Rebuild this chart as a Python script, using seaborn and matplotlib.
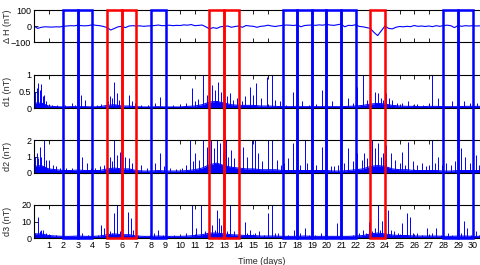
import numpy as np
import matplotlib
matplotlib.use("Agg")
import matplotlib.pyplot as plt
from matplotlib.patches import Rectangle
import seaborn as sns

# delta H, sampled every 0.25 day starting at day 0
dh_step = 0.25
dh_values = [0, -15, -8, -5, -6, -7, -5, -6,
             -2, 0, 2, 1, 5, 2, 1, 3,
             8, 4, 2, -3, -10, -25, -15, -5,
             -2, -10, 0, 2, 0, 1, -2, 0,
             1, 3, 6, 2, 3, 5, 2, 4,
             3, 7, 5, 9, 2, 4, 6, -5,
             -18, -10, -15, -5, -2, 0, -8, -3,
             0, -8, 3, 0, -2, -8, -2, 0,
             5, 0, -3, 1, 4, 6, 5, 3,
             7, -5, 3, 5, 6, 4, 7, 5,
             10, 6, 4, 8, 12, -5, 4, 3,
             8, -3, -5, -10, -15, -40, -60, -30,
             0, -15, -18, -8, -3, -5, -2, -4,
             3, -2, 0, -3, 0, -4, 2, -2,
             3, 5, 2, -10, 3, -2, 2, 0,
             2, 0, 1]

# background level of the detail coefficients, every 0.5 day
base_step = 0.5
d1_base = [0.15, 0.15, 0.06, 0.04, 0.03, 0.04, 0.04, 0.04, 0.03, 0.04,
           0.08, 0.1, 0.06, 0.06, 0.04, 0.03, 0.03, 0.04, 0.03, 0.03,
           0.03, 0.05, 0.06, 0.1, 0.18, 0.2, 0.15, 0.1, 0.08, 0.08,
           0.08, 0.06, 0.06, 0.05, 0.04, 0.04, 0.04, 0.04, 0.04, 0.04,
           0.04, 0.04, 0.04, 0.05, 0.06, 0.08, 0.12, 0.14, 0.12, 0.08,
           0.06, 0.05, 0.05, 0.04, 0.05, 0.05, 0.04, 0.04, 0.04, 0.05,
           0.05, 0.05]
d2_base = [0.4, 0.45, 0.25, 0.2, 0.15, 0.15, 0.18, 0.15, 0.15, 0.15,
           0.25, 0.3, 0.25, 0.25, 0.15, 0.12, 0.12, 0.15, 0.12, 0.12,
           0.12, 0.15, 0.2, 0.3, 0.5, 0.6, 0.45, 0.35, 0.3, 0.25,
           0.25, 0.2, 0.2, 0.2, 0.15, 0.15, 0.15, 0.15, 0.15, 0.15,
           0.15, 0.12, 0.12, 0.15, 0.2, 0.25, 0.4, 0.45, 0.4, 0.25,
           0.2, 0.2, 0.15, 0.15, 0.15, 0.15, 0.12, 0.12, 0.15, 0.15,
           0.15, 0.15]
d3_base = [2.5, 2.5, 1.5, 1.2, 1, 1, 1.2, 1, 1, 1.2,
           2, 2.5, 2, 2, 1.2, 1, 1, 1.2, 1, 1,
           1, 1.2, 1.5, 2, 3, 3, 2.5, 2, 1.8, 1.5,
           1.5, 1.2, 1.2, 1.2, 1, 1, 1, 1.2, 1, 1,
           1, 1, 1, 1, 1.2, 1.5, 2.5, 3, 2.5, 1.8,
           1.5, 1.5, 1.2, 1.2, 1.2, 1.2, 1, 1, 1.2, 1.2,
           1, 1]

# individual spikes (day, height)
d1_spike_t = [0.05, 0.2, 0.3, 0.4, 0.5, 0.6, 0.7, 0.85, 1.2, 1.6, 2.1, 2.6, 2.8, 3.2, 3.5, 3.9,
              4.3, 4.6, 5.05, 5.2, 5.35, 5.5, 5.65, 5.8, 6.1, 6.5, 6.7, 6.9, 7.3, 7.8, 8.3, 8.6,
              9.0, 9.5, 10.0, 10.4, 10.8, 11.0, 11.2, 11.55, 11.8, 12.0, 12.2, 12.4, 12.6, 12.8,
              13.0, 13.2, 13.4, 13.6, 13.9, 14.2, 14.4, 14.8, 15.0, 15.2, 15.5, 15.95, 16.3, 16.5,
              16.8, 17.2, 17.7, 18.0, 18.3, 18.8, 19.3, 19.7, 20.0, 20.4, 20.9, 21.5, 21.8, 22.1,
              22.5, 22.8, 23.0, 23.3, 23.5, 23.7, 23.9, 24.1, 24.3, 24.5, 24.8, 25.2, 25.6, 25.9,
              26.2, 26.6, 27.0, 27.2, 27.6, 28.0, 28.6, 29.0, 29.4, 29.8, 30.0, 30.3]
d1_spike_h = [0.5, 0.6, 0.75, 0.55, 0.72, 0.35, 0.4, 0.2, 0.1, 0.08, 0.08, 0.15, 0.1, 0.4, 0.25, 0.1,
              0.1, 0.12, 0.2, 0.37, 0.3, 0.8, 0.45, 0.25, 0.2, 0.4, 0.2, 0.15, 0.1, 0.08, 0.15, 0.33,
              0.1, 0.08, 0.1, 0.15, 0.6, 0.2, 0.27, 1.0, 0.4, 0.3, 0.7, 0.55, 0.8, 0.5,
              0.3, 0.35, 0.45, 0.25, 0.3, 0.2, 0.35, 0.65, 0.4, 0.75, 0.3, 0.95, 1.0, 0.25,
              0.2, 0.1, 0.5, 0.12, 0.2, 0.1, 0.12, 0.55, 0.15, 0.2, 0.12, 0.3, 0.15, 0.65,
              1.0, 0.25, 0.3, 0.5, 0.45, 0.3, 0.25, 0.45, 0.3, 0.25, 0.15, 0.15, 0.2, 0.1,
              0.12, 0.1, 0.15, 1.0, 0.3, 0.1, 0.2, 0.12, 0.2, 0.15, 0.3, 0.15]

d2_spike_t = [0.05, 0.2, 0.3, 0.4, 0.5, 0.65, 0.8, 1.05, 1.3, 1.5, 1.8, 2.2, 2.6, 3.0, 3.3, 3.6,
              3.9, 4.2, 4.5, 4.8, 5.0, 5.2, 5.35, 5.5, 5.7, 5.85, 6.05, 6.2, 6.5, 6.7, 7.0, 7.3,
              7.7, 8.0, 8.3, 8.6, 8.9, 9.3, 9.7, 10.1, 10.4, 10.7, 10.9, 11.0, 11.3, 11.55, 11.8,
              12.0, 12.1, 12.3, 12.5, 12.7, 12.9, 13.1, 13.3, 13.5, 13.7, 14.0, 14.3, 14.6, 14.9,
              15.1, 15.3, 15.6, 16.0, 16.3, 16.6, 16.9, 17.1, 17.4, 17.7, 18.0, 18.2, 18.5, 18.7,
              19.0, 19.3, 19.7, 20.0, 20.3, 20.5, 20.8, 21.2, 21.5, 21.8, 22.1, 22.4, 22.6, 22.8,
              23.0, 23.1, 23.3, 23.5, 23.7, 23.9, 24.1, 24.4, 24.7, 25.0, 25.2, 25.4, 25.6, 25.9,
              26.2, 26.5, 26.8, 27.0, 27.2, 27.4, 27.6, 27.9, 28.2, 28.5, 28.8, 29.2, 29.5, 29.8,
              30.0, 30.2, 30.4]
d2_spike_h = [1.0, 1.2, 0.9, 1.6, 1.0, 2.0, 0.8, 0.8, 0.5, 0.4, 0.3, 0.3, 0.3, 0.4, 1.0, 0.6,
              0.3, 0.3, 0.4, 0.5, 0.6, 1.0, 0.7, 2.0, 1.1, 1.3, 0.6, 1.0, 0.9, 0.6, 0.4, 0.5,
              0.3, 0.4, 0.6, 1.2, 0.4, 0.3, 0.25, 0.3, 0.5, 2.0, 0.7, 1.2, 0.8, 2.0, 1.6,
              0.9, 2.0, 1.5, 2.0, 1.8, 1.2, 2.0, 1.0, 1.4, 0.9, 0.8, 1.6, 1.0, 2.0,
              2.0, 1.2, 0.7, 2.0, 2.0, 0.8, 0.5, 0.6, 0.9, 1.8, 0.6, 0.5, 2.0, 0.6,
              0.8, 0.5, 1.6, 0.8, 0.4, 0.4, 0.5, 0.6, 1.5, 0.7, 1.2, 0.8, 1.2, 0.9,
              2.0, 2.0, 1.5, 1.8, 1.0, 1.2, 1.7, 1.2, 0.8, 0.6, 1.3, 0.5, 1.9, 0.7,
              0.5, 0.6, 0.4, 0.5, 2.0, 0.6, 1.0, 0.5, 0.6, 0.5, 0.7, 1.5, 1.0, 0.6,
              0.5, 1.1, 0.5]

d3_spike_t = [0.05, 0.25, 0.4, 0.5, 0.6, 0.8, 1.1, 1.5, 1.9, 2.3, 2.7, 3.1, 3.3, 3.7, 4.1, 4.4,
              4.6, 4.8, 5.05, 5.2, 5.35, 5.5, 5.7, 5.9, 6.1, 6.4, 6.6, 6.8, 7.1, 7.5, 7.9, 8.2,
              8.5, 8.8, 9.2, 9.6, 10.0, 10.4, 10.8, 11.1, 11.45, 11.7, 12.0, 12.2, 12.35, 12.5,
              12.65, 12.8, 13.0, 13.2, 13.4, 13.7, 14.0, 14.4, 14.6, 14.8, 15.1, 15.4, 15.7, 16.0,
              16.3, 16.5, 16.7, 17.0, 17.4, 17.8, 18.0, 18.2, 18.5, 18.8, 19.2, 19.6, 20.0, 20.4,
              20.7, 21.0, 21.4, 21.8, 22.2, 22.5, 22.7, 22.9, 23.1, 23.3, 23.5, 23.65, 23.8, 24.0,
              24.2, 24.4, 24.6, 24.9, 25.2, 25.5, 25.7, 25.9, 26.2, 26.5, 26.9, 27.2, 27.5, 27.8,
              28.0, 28.3, 28.6, 28.9, 29.2, 29.4, 29.6, 29.9, 30.2, 30.4]
d3_spike_h = [3, 13, 4, 5, 5, 3, 2, 2, 1.5, 1.5, 1.5, 10, 3, 2, 1.5, 2,
              8, 6, 3, 4, 3, 15, 20, 4, 3, 16, 12, 5, 2, 1.5, 2, 3,
              5, 2, 1.5, 2, 2, 3, 20, 6, 20, 4, 4, 8, 5, 17,
              12, 8, 5, 4, 20, 4, 5, 10, 3, 5, 3, 4, 2, 15,
              20, 3, 3, 1.5, 2, 5, 2, 3, 6, 2, 2, 3, 2, 1.5,
              9, 2, 1.5, 2, 3, 5, 3, 10, 4, 6, 20, 5, 10.5, 11,
              17, 5, 4, 3, 9, 15, 13, 3, 3, 2, 6, 3, 6, 2,
              2, 3, 2, 5, 3, 10.5, 6, 2, 4, 2]

# highlighted days (box spans one day from the start)
blue_days = [2, 3, 8, 17, 18, 19, 20, 21, 28, 29]
red_days = [5, 6, 12, 13, 23]

day_ticks = list(range(1, 31))

sns.set_style("white")
plt.rcParams['font.family'] = ['Liberation Sans', 'DejaVu Sans']
plt.rcParams['font.size'] = 6.5

W, H = 480, 265
fig = plt.figure(figsize=(W / 100, H / 100), dpi=100)

left = 34 / W
width = 1 - left
xmax = 30.5

# (top px, bottom px, ylim, yticks, yticklabels, ylabel)
panels = [
    (10, 42, (-100, 100), [-100, 0, 100], ["\u2212100", "0", "100"], "\u0394 H (nT)"),
    (75, 108, (0, 1), [0, 0.5, 1], ["0", "0.5", "1"], "d1 (nT)"),
    (140, 173, (0, 2), [0, 1, 2], ["0", "1", "2"], "d2 (nT)"),
    (205, 238, (0, 20), [0, 10, 20], ["0", "10", "20"], "d3 (nT)"),
]

detail = [
    (d1_base, d1_spike_t, d1_spike_h),
    (d2_base, d2_spike_t, d2_spike_h),
    (d3_base, d3_spike_t, d3_spike_h),
]

for i, (top, bot, ylim, yt, ytl, ylab) in enumerate(panels):
    ax = fig.add_axes([left, 1 - bot / H, width, (bot - top) / H])
    if i == 0:
        dh_days = dh_step * np.arange(len(dh_values))
        sns.lineplot(x=dh_days, y=dh_values, ax=ax, color="blue", lw=0.8)
    else:
        base, st, sh = detail[i - 1]
        base_days = base_step * np.arange(len(base))
        sns.lineplot(x=base_days, y=base, ax=ax, color="blue", lw=0.7)
        ax.fill_between(base_days, 0, base, color="blue", lw=0)
        ax.vlines(st, 0, sh, color="blue", lw=0.7)
        ax.axhline(0, color="blue", lw=1.6)
    ax.set_xlim(0, xmax)
    ax.set_ylim(*ylim)
    ax.set_yticks(yt)
    ax.set_yticklabels(ytl)
    ax.set_xticks(day_ticks)
    if i == 3:
        ax.set_xticklabels([str(d) for d in day_ticks])
    else:
        ax.set_xticklabels([])
    ax.tick_params(direction="in", length=3, width=0.6, top=True, bottom=True,
                   left=True, right=False, pad=2, labelsize=6.5, colors="black")
    for side in ["left", "top", "bottom"]:
        ax.spines[side].set_color("black")
        ax.spines[side].set_linewidth(0.8)
    ax.spines["right"].set_visible(False)
    ax.set_xlabel("")
    ax.set_ylabel("")
    fig.text(7 / W, 1 - (top + bot) / 2 / H, ylab, rotation=90,
             ha="center", va="center", fontsize=6.5)

fig.text(262 / W, 1 - 261 / H, "Time (days)", ha="center", va="center", fontsize=6.5)

# overlay for the day boxes spanning all panels
ov = fig.add_axes([left, 1 - 238 / H, width, (238 - 10) / H])
ov.set_xlim(0, xmax)
ov.set_ylim(0, 1)
ov.axis("off")
ov.patch.set_alpha(0)
for d in blue_days:
    ov.add_patch(Rectangle((d, 0), 1, 1, fill=False, edgecolor="blue", lw=1.8, clip_on=False))
for d in red_days:
    ov.add_patch(Rectangle((d, 0), 1, 1, fill=False, edgecolor="red", lw=1.8, clip_on=False))

fig.savefig("out.png", dpi=100)
